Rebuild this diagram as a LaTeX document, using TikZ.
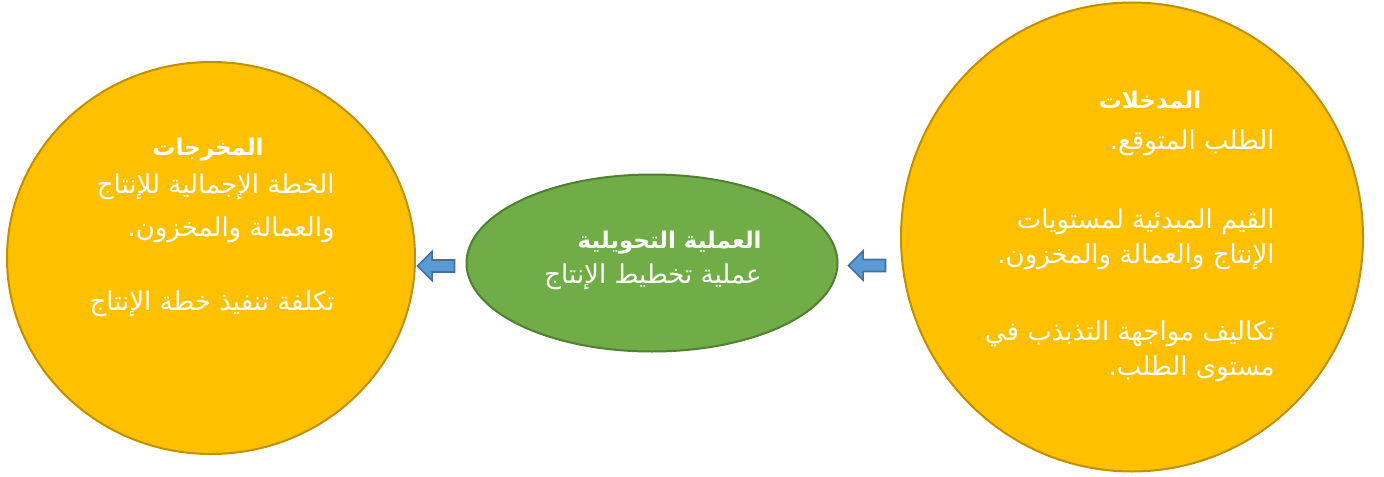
\documentclass[tikz,border=0pt]{standalone}
\usepackage{fontspec}
\newfontfamily\arabicfont[Script=Arabic]{DejaVu Sans}
\TeXXeTstate=1
\usetikzlibrary{shapes.geometric, shapes.arrows}
\definecolor{gold}{HTML}{FFC000}
\definecolor{goldline}{HTML}{BF9000}
\definecolor{leaf}{HTML}{70AD47}
\definecolor{leafline}{HTML}{507E32}
\definecolor{sky}{HTML}{5B9BD5}
\definecolor{skyline}{HTML}{41719C}
\newcommand{\artext}[1]{\beginR #1\endR}
\tikzset{
	stage/.style = {draw = goldline, fill = gold, ellipse, line width = 1pt, inner sep = 0pt},
	core/.style = {draw = leafline, fill = leaf, ellipse, line width = 1pt, inner sep = 0pt},
	flow/.style = {draw = skyline, fill = sky, single arrow, shape border rotate = 180, line width = 0.8pt,
		minimum height = 18.5pt, inner sep = 2.6pt, single arrow head extend = 4.3pt},
	head/.style = {text = white, font = \arabicfont\bfseries\fontsize{11.5}{17.5}\selectfont, inner sep = 0pt},
	body/.style = {text = white, font = \arabicfont\fontsize{13}{17.5}\selectfont, inner sep = 0pt, align = right}
}
\begin{document}
\begin{tikzpicture}[x = 0.5pt, y = -0.5pt]
				\useasboundingbox (0, 0) rectangle (1384, 476);

				\node [stage, minimum width = 204pt, minimum height = 196pt] (outputs) at (211, 258) {};
				\node [stage, minimum width = 231pt, minimum height = 234.5pt] (inputs) at (1132, 237) {};
				\node [core, minimum width = 185.5pt, minimum height = 88.5pt] (process) at (652, 263) {};

				\node [flow] (toout) at (439, 266) {};
				\node [flow] (toproc) at (870, 265.5) {};

				\node [head, anchor = base] (inhead) at (1150, 108) {\artext{المدخلات}};
				\node [body, anchor = base east] (inbody) at (1275, 375) {\artext{الطلب المتوقع.}\\[22pt]
					\artext{القيم المبدئية لمستويات}\\
					\artext{الإنتاج والعمالة والمخزون.}\\[21pt]
					\artext{تكاليف مواجهة التذبذب في}\\
					\artext{مستوى الطلب.}};

				\node [head, anchor = base east] (prochead) at (762, 248) {\artext{العملية التحويلية}};
				\node [body, anchor = base east] (procbody) at (762, 283) {\artext{عملية تخطيط الإنتاج}};

				\node [head, anchor = base] (outhead) at (208, 155) {\artext{المخرجات}};
				\node [body, anchor = base east] (outbody) at (335, 310) {\artext{الخطة الإجمالية للإنتاج}\\[4pt]
					\artext{والعمالة والمخزون.}\\[19.5pt]
					\artext{تكلفة تنفيذ خطة الإنتاج}};
\end{tikzpicture}
\end{document}
